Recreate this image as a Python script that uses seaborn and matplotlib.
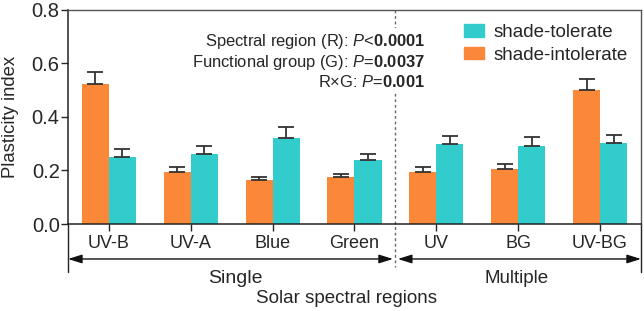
import matplotlib
matplotlib.use("Agg")
import matplotlib.pyplot as plt
import matplotlib.patches as mpatches
import numpy as np
import pandas as pd
import seaborn as sns

categories = ["UV-B", "UV-A", "Blue", "Green", "UV", "BG", "UV-BG"]
groups = ["shade-intolerate", "shade-tolerate"]
intolerant_mean = [0.522, 0.194, 0.164, 0.175, 0.194, 0.207, 0.500]
intolerant_err = [0.045, 0.019, 0.011, 0.013, 0.019, 0.017, 0.041]
tolerant_mean = [0.250, 0.261, 0.321, 0.237, 0.297, 0.291, 0.302]
tolerant_err = [0.030, 0.030, 0.041, 0.024, 0.031, 0.034, 0.030]
yticks = [0.0, 0.2, 0.4, 0.6, 0.8]
stats_labels = ["Spectral region (R): ", "Functional group (G): ", "R\u00d7G: "]
stats_ops = ["<", "=", "="]
stats_p = ["0.0001", "0.0037", "0.001"]

ORANGE = "#FA8838"
TEAL = "#33CCCC"

sns.set_theme(style="ticks")
plt.rcParams["font.family"] = ["Liberation Sans", "DejaVu Sans"]
plt.rcParams["mathtext.fontset"] = "custom"
plt.rcParams["mathtext.rm"] = "Liberation Sans"
plt.rcParams["mathtext.it"] = "Liberation Sans:italic"
plt.rcParams["mathtext.bf"] = "Liberation Sans:bold"

df = pd.DataFrame({
    "region": categories * 2,
    "group": [groups[0]] * len(categories) + [groups[1]] * len(categories),
    "value": intolerant_mean + tolerant_mean,
    "err": intolerant_err + tolerant_err,
})

fig = plt.figure(figsize=(6.44, 3.11), dpi=100)
ax = fig.add_axes([0.1056, 0.2797, 0.8897, 0.6897])

sns.barplot(data=df, x="region", y="value", hue="group", order=categories,
            hue_order=groups, palette=[ORANGE, TEAL], width=0.66,
            errorbar=None, ax=ax, legend=False, saturation=1, linewidth=0)

# error bars on top of each bar (upper only)
for gi, g in enumerate(groups):
    sub = df[df["group"] == g].set_index("region").loc[categories]
    bars = ax.containers[gi]
    xs = [b.get_x() + b.get_width() / 2 for b in bars]
    ax.errorbar(xs, sub["value"].values,
                yerr=[np.zeros(len(xs)), sub["err"].values],
                fmt="none", ecolor="#333333", elinewidth=1.3, capsize=5.5,
                capthick=1.3, zorder=1)

ax.set_ylim(0, 0.8)
ax.set_xlim(-0.5, len(categories) - 0.5)
ax.set_yticks(yticks)
ax.set_yticklabels([f"{v:.1f}" for v in yticks], fontsize=14.5)
ax.tick_params(axis="x", labelsize=13, length=5, width=1, pad=3)
ax.tick_params(axis="y", length=5, width=1, pad=1)
ax.set_ylabel("Plasticity index", fontsize=13.3, labelpad=9)
ax.set_xlabel("")
for s in ["left", "bottom"]:
    ax.spines[s].set_color("#222222")
    ax.spines[s].set_linewidth(1.1)
for s in ["top", "right"]:
    ax.spines[s].set_visible(True)
    ax.spines[s].set_color("#555555")
    ax.spines[s].set_linewidth(1.0)

trans = ax.get_xaxis_transform()
# dashed separator
ax.plot([3.5, 3.5], [1.0, -0.199], transform=trans, ls=(0, (2, 2)),
        color="#666666", lw=1.0, clip_on=False, zorder=0)
# vertical end lines
for xv in [-0.5, len(categories) - 0.5]:
    ax.plot([xv, xv], [0, -0.222], transform=trans, color="#222222",
            lw=1.0, clip_on=False)
# arrows
for (x0, x1) in [(-0.5, 3.47), (3.53, len(categories) - 0.5)]:
    ax.annotate("", xy=(x1, -0.163), xytext=(x0, -0.163), xycoords=trans,
                textcoords=trans,
                arrowprops=dict(arrowstyle="<|-|>,head_length=0.7,head_width=0.22",
                                color="#111111", lw=1.0, shrinkA=0, shrinkB=0))
ax.text(1.55, -0.275, "Single", transform=trans, ha="center", va="baseline",
        fontsize=14)
ax.text(4.98, -0.275, "Multiple", transform=trans, ha="center", va="baseline",
        fontsize=13.5)
ax.text(2.9, -0.368, "Solar spectral regions", transform=trans, ha="center",
        va="baseline", fontsize=13.5)

# statistics annotation (one multi-line text block)
lines = [lab + r"$\it{P}$" + op + r"$\bf{" + val + "}$"
         for lab, op, val in zip(stats_labels, stats_ops, stats_p)]
ax.text(3.86, 0.512, "\n".join(lines), ha="right", va="baseline",
        multialignment="right", fontsize=11.9, linespacing=1.12,
        bbox=dict(facecolor="white", edgecolor="none", pad=1.5))

handles = [mpatches.Patch(color=TEAL, label="shade-tolerate"),
           mpatches.Patch(color=ORANGE, label="shade-intolerate")]
ax.legend(handles=handles, loc="upper right", bbox_to_anchor=(0.997, 0.985),
          frameon=False, fontsize=13.5, handlelength=1.1, handleheight=0.64,
          handletextpad=0.5, labelspacing=0.3, borderaxespad=0.2)

fig.savefig("out.png", dpi=100)
